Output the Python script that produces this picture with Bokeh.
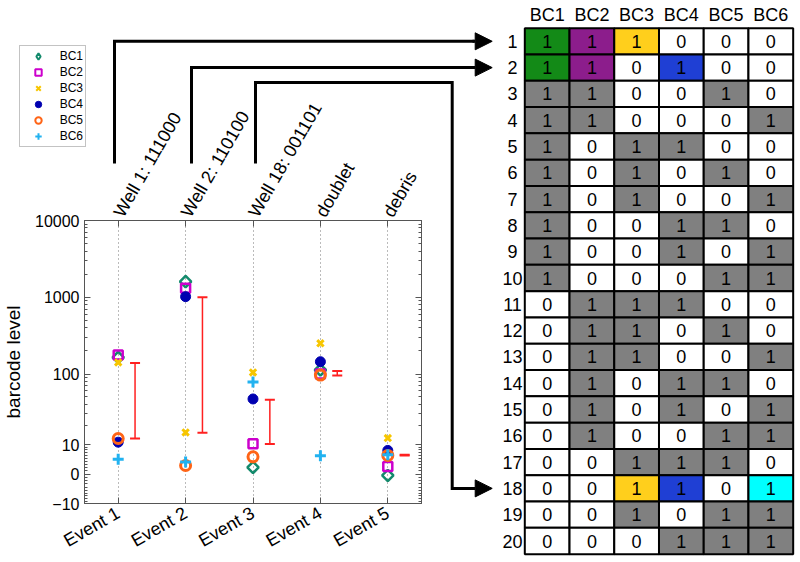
import numpy as np
from math import pi
from bokeh.plotting import figure
from bokeh.models import (ColumnDataSource, FixedTicker, LinearAxis, Range1d, Legend,
                          LegendItem, Whisker, TeeHead, Arrow, NormalHead, GridBox)
from bokeh.core.properties import value
from bokeh.embed import file_html
from bokeh.resources import INLINE

# ---------------- data ----------------
events = ["Event 1", "Event 2", "Event 3", "Event 4", "Event 5"]
event_titles = ["Well 1: 111000", "Well 2: 110100", "Well 18: 001101", "doublet", "debris"]
barcodes = ["BC1", "BC2", "BC3", "BC4", "BC5", "BC6"]
bc1 = [165, 1600, 2.0, 113, -0.4]
bc2 = [177, 1310, 10.4, 100, 2.3]
bc3 = [142, 16, 105, 252, 13]
bc4 = [11.1, 1020, 47, 145, 7.7]
bc5 = [12.8, 2.6, 5.4, 97, 5.9]
bc6 = [4.6, 3.7, 79, 5.8, 6.1]
err_low = [12.8, 15.8, 10.3, 96, 5.9]
err_high = [140, 1000, 46, 110, 6.1]
y_tick_values = [-10, 0, 10, 100, 1000, 10000]
y_tick_labels = ["\u221210", "0", "10", "100", "1000", "10000"]

wells = list(range(1, 21))
well_codes = ["111000", "110100", "110010", "110001", "101100", "101010", "101001",
              "100110", "100101", "100011", "011100", "011010", "011001", "010110",
              "010101", "010011", "001110", "001101", "001011", "000111"]
highlight_wells = [1, 2, 18]
event_wells = [1, 2, 18]          # wells that events 1-3 point to

FONT = "Liberation Sans"
marker_names = ["square", "square", "x", "circle", "circle", "cross"]
legend_markers = ["diamond", "square", "x", "circle", "circle", "cross"]
marker_angle = [pi / 4, 0, 0, 0, 0, 0]
marker_colors = ["#138a6c", "#cc00cc", "#f7c600", "#0000b0", "#ff6416", "#22b2f0"]
marker_fill = [None, None, "#f7c600", "#0000b0", None, "#22b2f0"]
marker_sizes = [8, 9, 9, 10, 10, 11]
marker_lw = [2.5, 2.5, 3, 1, 3, 3]
cell_colors = ["#138a17", "#8c1d8c", "#ffcf1c", "#1f3fd4", "#ff7f2a", "#00ffff"]
GRAY = "#808080"
AXIS = "#555555"


def tr(v):
    return np.arcsinh(np.asarray(v, dtype=float) / 10.0)


x_pos = [1, 2, 3, 4, 5]
series = [bc1, bc2, bc3, bc4, bc5, bc6]

# ---------------- layout constants (canvas pixels) ----------------
W, H = 800, 562
ROW_H = 26.3
ROW1_Y = 40.8            # canvas y of row-1 centre
COL_W = 44.73
TABLE_LEFT = 524.3       # canvas x of table left edge
FRAME_L, FRAME_R, FRAME_T, FRAME_B = 82, 421, 220, 503


def set_noalign(fig):
    try:
        fig.frame_align = False
    except Exception:
        pass


# ---------------- scatter figure ----------------
minor_vals = []
for dec in [1, 10, 100, 1000]:
    for k in range(2 if dec > 1 else 1, 10):
        minor_vals.append(k * dec)
minor_vals = [-m for m in range(1, 10)] + minor_vals
yticker = FixedTicker(ticks=list(tr(y_tick_values)), minor_ticks=list(tr(minor_vals)))
xticker = FixedTicker(ticks=x_pos)

p = figure(width=W, height=H, x_range=Range1d(0.5, 5.5),
           y_range=Range1d(float(tr(-10)), float(tr(10000))),
           output_backend="svg", toolbar_location=None,
           min_border_left=FRAME_L, min_border_right=W - FRAME_R, min_border_top=FRAME_T,
           min_border_bottom=H - FRAME_B)
set_noalign(p)
p.background_fill_color = "white"
p.border_fill_color = "white"
p.outline_line_color = AXIS

yax = p.yaxis[0]
yax.ticker = yticker
yax.major_label_overrides = {float(t): l for t, l in zip(tr(y_tick_values), y_tick_labels)}
yax.axis_label = "barcode level"
yax.axis_label_text_font = FONT
yax.axis_label_text_font_size = "19px"
yax.axis_label_text_font_style = "normal"
yax.axis_label_text_color = "black"
yax.axis_label_standoff = 8
yax.major_label_text_font = FONT
yax.major_label_text_font_size = "16px"
yax.major_label_standoff = 5

xax = p.xaxis[0]
xax.ticker = xticker
xax.major_label_overrides = {i: e for i, e in zip(x_pos, events)}
xax.major_label_orientation = pi / 6
xax.major_label_text_font = FONT
xax.major_label_text_font_size = "18px"
xax.major_label_standoff = 8

top = LinearAxis(ticker=FixedTicker(ticks=x_pos),
                 major_label_overrides={i: t for i, t in zip(x_pos, event_titles)},
                 major_label_orientation=pi / 3,
                 major_label_text_font=FONT, major_label_text_font_size="18px")
p.add_layout(top, "above")
right = LinearAxis(ticker=yticker,
                   major_label_overrides={float(t): "" for t in tr(y_tick_values)})
p.add_layout(right, "right")

for ax in [xax, yax, top, right]:
    ax.axis_line_color = AXIS
    ax.major_tick_line_color = AXIS
    ax.minor_tick_line_color = AXIS
    ax.major_tick_in = 6
    ax.major_tick_out = 0
    ax.minor_tick_in = 3
    ax.minor_tick_out = 0
    ax.major_label_text_color = "black"

p.xgrid.ticker = xticker
p.xgrid.grid_line_color = "#777777"
p.xgrid.grid_line_dash = "1 3"
p.ygrid.visible = False

RED = "#ff2020"
esrc = ColumnDataSource(dict(x=[i + 0.25 for i in x_pos], lo=tr(err_low), hi=tr(err_high)))
p.add_layout(Whisker(base="x", lower="lo", upper="hi", source=esrc, dimension="height",
                     line_color=RED, line_width=1.5,
                     upper_head=TeeHead(size=10, line_color=RED, line_width=2),
                     lower_head=TeeHead(size=10, line_color=RED, line_width=2)))

for name, vals, mk, ang, col, fc, sz, lw in zip(barcodes, series, marker_names, marker_angle,
                                                 marker_colors, marker_fill, marker_sizes,
                                                 marker_lw):
    src = ColumnDataSource(dict(x=x_pos, y=tr(vals)))
    p.scatter("x", "y", source=src, marker=mk, angle=ang, size=sz, line_color=col,
              fill_color=fc, line_width=lw)

# ---------------- overlay figure: table, connectors, legend ----------------
X0 = 0.5 - TABLE_LEFT / COL_W        # column-units value at canvas x = 0
Y0 = 1 - ROW1_Y / ROW_H              # row-units value at canvas y = 0


def col_of(px):
    return X0 + px / COL_W


def row_of(py):
    return Y0 + py / ROW_H


q = figure(width=W, height=H, x_range=Range1d(X0, X0 + W / COL_W),
           y_range=Range1d(Y0 + H / ROW_H, Y0),
           output_backend="svg", toolbar_location=None,
           min_border_left=0, min_border_right=0, min_border_top=0, min_border_bottom=0)
set_noalign(q)
q.axis.visible = False
q.grid.visible = False
q.outline_line_color = None
q.background_fill_alpha = 0
q.border_fill_alpha = 0

cx, cy, ctext, cfill = [], [], [], []
for w, code in zip(wells, well_codes):
    for j, ch in enumerate(code):
        cx.append(j + 1)
        cy.append(w)
        ctext.append(ch)
        if ch == "1":
            cfill.append(cell_colors[j] if w in highlight_wells else GRAY)
        else:
            cfill.append("white")
csrc = ColumnDataSource(dict(x=cx, y=cy, t=ctext, f=cfill))
q.rect("x", "y", width=1, height=1, source=csrc, fill_color="f", line_color="black",
       line_width=2)
q.text("x", "y", text="t", source=csrc, text_align="center", text_baseline="middle",
       text_font=value(FONT), text_font_size="18px", text_color="black")
q.text(x=list(range(1, 7)), y=[0] * 6, text=barcodes, text_align="center",
       text_baseline="middle", text_font=value(FONT), text_font_size="18px")
q.text(x=[col_of(512)] * 20, y=wells, text=[str(w) for w in wells], text_align="center",
       text_baseline="middle", text_font=value(FONT), text_font_size="18px")

# connectors from the event titles to the wells
riser_x = [114, 191, 255]
riser_bottom = 163
turn_y = 82
turn_x = 451.7
tip_x = 491.7
elbow_x = 474
xs, ys = [], []
for k, w in enumerate(event_wells):
    if k < 2:
        xs.append([col_of(riser_x[k]), col_of(riser_x[k]), col_of(elbow_x)])
        ys.append([row_of(riser_bottom), w, w])
    else:
        xs.append([col_of(riser_x[k]), col_of(riser_x[k]), col_of(turn_x), col_of(turn_x),
                   col_of(elbow_x)])
        ys.append([row_of(riser_bottom), row_of(turn_y), row_of(turn_y), w, w])
q.multi_line(xs, ys, line_color="black", line_width=3, line_join="miter", line_cap="butt")
asrc = ColumnDataSource(dict(x0=[col_of(elbow_x - 2)] * 3, y=event_wells,
                             x1=[col_of(tip_x)] * 3))
q.add_layout(Arrow(x_start="x0", y_start="y", x_end="x1", y_end="y", source=asrc,
                   end=NormalHead(size=17, fill_color="black", line_color="black"),
                   line_color="black", line_width=3))

# legend (markers styled like the scatter series; NaN points are not drawn)
items = []
for name, mk, col, fc, lw in zip(barcodes, legend_markers, marker_colors, marker_fill,
                                  marker_lw):
    r = q.scatter(x=[np.nan], y=[np.nan], marker=mk, size=8, line_color=col,
                  fill_color=fc, line_width=min(lw, 2))
    items.append(LegendItem(label=name, renderers=[r]))
LEG_T, LEG_H = 47, 100
legend = Legend(items=items, location=(18.7, H - LEG_T - LEG_H), border_line_color="#888888",
                background_fill_color="white", background_fill_alpha=1,
                label_text_font=FONT, label_text_font_size="12px", label_text_color="black",
                glyph_width=32, glyph_height=16, label_height=16, label_width=22,
                spacing=0, padding=2, margin=0, label_standoff=6)
q.add_layout(legend)

layout = GridBox(children=[(p, 0, 0), (q, 0, 0)])
open("out.html", "w").write(file_html(layout, INLINE))
